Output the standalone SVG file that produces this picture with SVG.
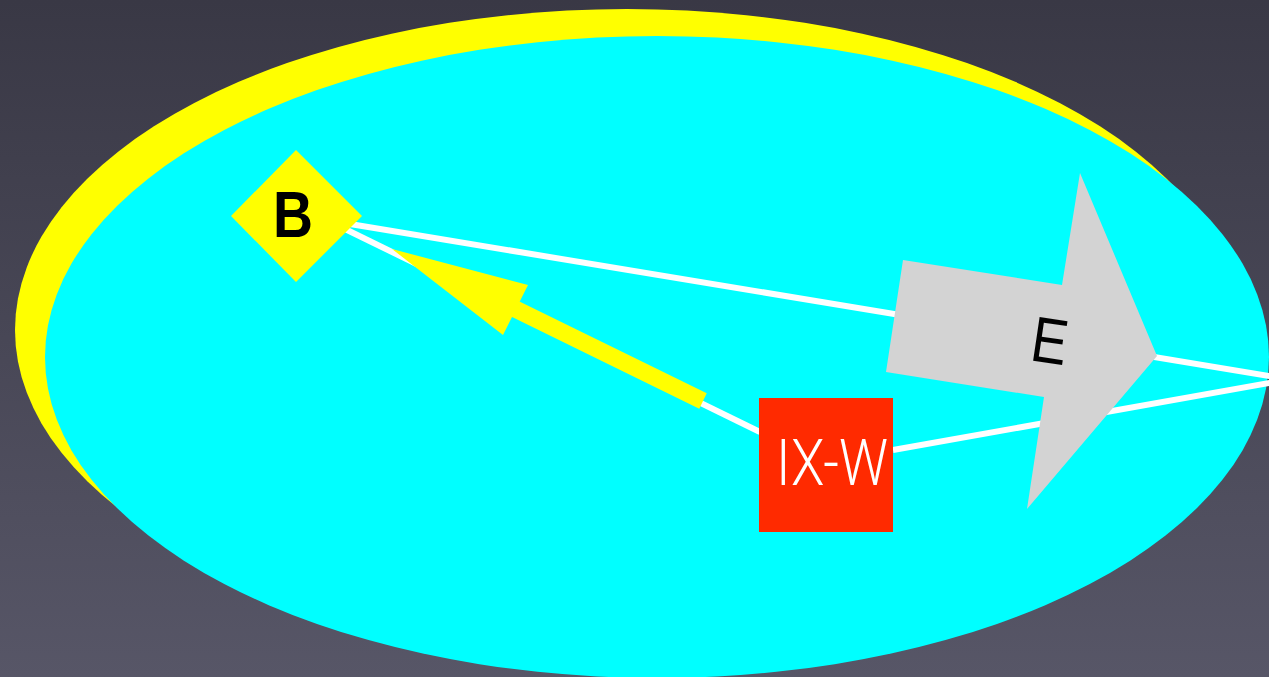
<svg xmlns="http://www.w3.org/2000/svg" width="1269" height="677" viewBox="0 0 1269 677">
<defs>
<linearGradient id="bg" x1="0" y1="0" x2="0" y2="1">
<stop offset="0" stop-color="#393845"/>
<stop offset="1" stop-color="#575667"/>
</linearGradient>
</defs>
<style>
.wire{stroke:#ffffff;stroke-width:6;fill:none}
</style>
<rect width="1269" height="677" fill="url(#bg)"/>
<g id="region">
<ellipse cx="627" cy="330" rx="612" ry="321" fill="#ffff00"/>
<ellipse cx="657" cy="357" rx="612" ry="321" fill="#00ffff"/>
</g>
<g id="connectors">
<line class="wire" x1="350" y1="224" x2="1275" y2="377"/>
<line class="wire" x1="893" y1="450" x2="1275" y2="382"/>
<line class="wire" x1="345" y1="229" x2="760" y2="432"/>
<line x1="703" y1="401" x2="505" y2="304" stroke="#ffff00" stroke-width="17"/>
<polygon points="392,249 528,285 503,335" fill="#ffff00"/>
</g>
<g id="node-B">
<polygon points="296,150 362,216 296,282 231,216" fill="#ffff00"/>
<text x="293" y="237" font-family="Liberation Sans, Arial, sans-serif" font-weight="bold" font-size="64" textLength="40" lengthAdjust="spacingAndGlyphs" text-anchor="middle" fill="#000000">B</text>
</g>
<g id="node-E">
<polygon points="903,260 1062,285 1080,173 1157,356 1027,509 1044,397 886,372" fill="#d3d3d3"/>
<text x="1050" y="363" transform="rotate(8.5 1050 340)" font-family="Liberation Sans, Arial, sans-serif" font-size="64" textLength="36" lengthAdjust="spacingAndGlyphs" text-anchor="middle" fill="#000000">E</text>
</g>
<g id="node-IXW">
<rect x="759" y="398" width="134" height="134" fill="#ff2a00"/>
<text x="832" y="485" font-family="Roboto, Liberation Sans, sans-serif" font-weight="300" font-size="65" textLength="112" lengthAdjust="spacingAndGlyphs" text-anchor="middle" fill="#ffffff">IX-W</text>
</g>
</svg>
